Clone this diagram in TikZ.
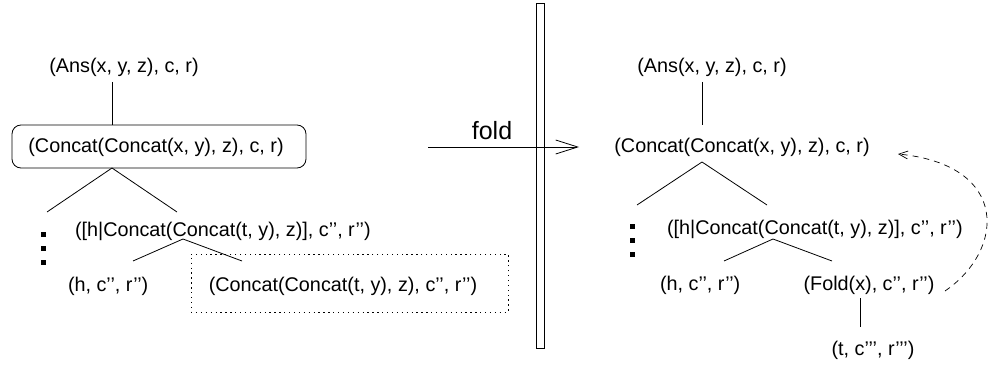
\documentclass[tikz,border=0pt]{standalone}
\usepackage{fontspec}
\setmainfont{Liberation Sans}
\usetikzlibrary{arrows.meta}
\begin{document}
\begin{tikzpicture}[x=1pt,y=-1pt,
  every node/.style={inner sep=0pt,outer sep=0pt,font=\fontsize{19.8}{23}\selectfont},
  conn/.style={line width=0.8pt},
  dotsq/.style={fill=black,minimum size=5pt,inner sep=0pt},
  hilite/.style={draw,rounded corners=9pt,line width=0.8pt,minimum width=294pt,minimum height=43pt},
  dotbox/.style={draw,line width=1pt,dash pattern=on 1.3pt off 3.6pt,minimum width=317pt,minimum height=58pt},
]
\useasboundingbox (0,0) rectangle (990,366);
% ---------------- left tree ----------------
\node (ansL) at (124,67) {(Ans(x, y, z), c, r)};
\node[hilite] (boxL) at (159,146.5) {};
\node (catL) at (156,147) {(Concat(Concat(x, y), z), c, r)};
\coordinate (aL0) at (112,82);
\coordinate (aL1) at (112,125);
\draw[conn] (aL0) -- (aL1);
\coordinate (pL) at (112,168);
\coordinate (pLl) at (47,212);
\coordinate (pLr) at (177,212);
\draw[conn] (pLl) -- (pL) -- (pLr);
\node[dotsq] (dL1) at (43,234) {};
\node[dotsq] (dL2) at (43,248) {};
\node[dotsq] (dL3) at (43,262) {};
\node[anchor=west] (hcL) at (75,231) {([h|Concat(Concat(t, y), z)], c’’, r’’)};
\coordinate (qL) at (183,239);
\coordinate (qLl) at (133,261);
\coordinate (qLr) at (242,261);
\draw[conn] (qLl) -- (qL) -- (qLr);
\node[anchor=west] (hL) at (68,286) {(h, c’’, r’’)};
\node[dotbox] (dbox) at (349.5,283) {};
\node (ccL) at (343,286) {(Concat(Concat(t, y), z), c’’, r’’)};
% ---------------- middle ----------------
\node[draw,fill=white,line width=0.8pt,minimum width=8pt,minimum height=345pt] (bar) at (540,175.5) {};
\coordinate (fa) at (428,147);
\coordinate (fb) at (579,147);
\draw[conn,-{Straight Barb[length=22pt,width=14pt]}] (fa) -- (fb);
\node[font=\fontsize{25}{28}\selectfont] (fold) at (492,131) {fold};
% ---------------- right tree ----------------
\node (ansR) at (712,67) {(Ans(x, y, z), c, r)};
\node (catR) at (742,147) {(Concat(Concat(x, y), z), c, r)};
\coordinate (aR0) at (702,82);
\coordinate (aR1) at (702,125);
\draw[conn] (aR0) -- (aR1);
\coordinate (pR) at (702,162);
\coordinate (pRl) at (637,205);
\coordinate (pRr) at (767,205);
\draw[conn] (pRl) -- (pR) -- (pRr);
\node[dotsq] (dR1) at (632,226) {};
\node[dotsq] (dR2) at (632,240) {};
\node[dotsq] (dR3) at (632,254) {};
\node[anchor=west] (hcR) at (667,229) {([h|Concat(Concat(t, y), z)], c’’, r’’)};
\coordinate (qR) at (773,239);
\coordinate (qRl) at (724,261);
\coordinate (qRr) at (832,261);
\draw[conn] (qRl) -- (qR) -- (qRr);
\node[anchor=west] (hR) at (660,285) {(h, c’’, r’’)};
\node (foldR) at (869,285) {(Fold(x), c’’, r’’)};
\coordinate (fR0) at (860,298);
\coordinate (fR1) at (860,327);
\draw[conn] (fR0) -- (fR1);
\node (tR) at (873,350) {(t, c’’’, r’’’)};
\coordinate (cs) at (945,291);
\coordinate (ce) at (898,154);
\draw[line width=0.7pt,dash pattern=on 6pt off 5pt,-{Straight Barb[length=9pt,width=8pt]}]
  (cs) .. controls (1005,250) and (1010,165) .. (ce);
\end{tikzpicture}
\end{document}
